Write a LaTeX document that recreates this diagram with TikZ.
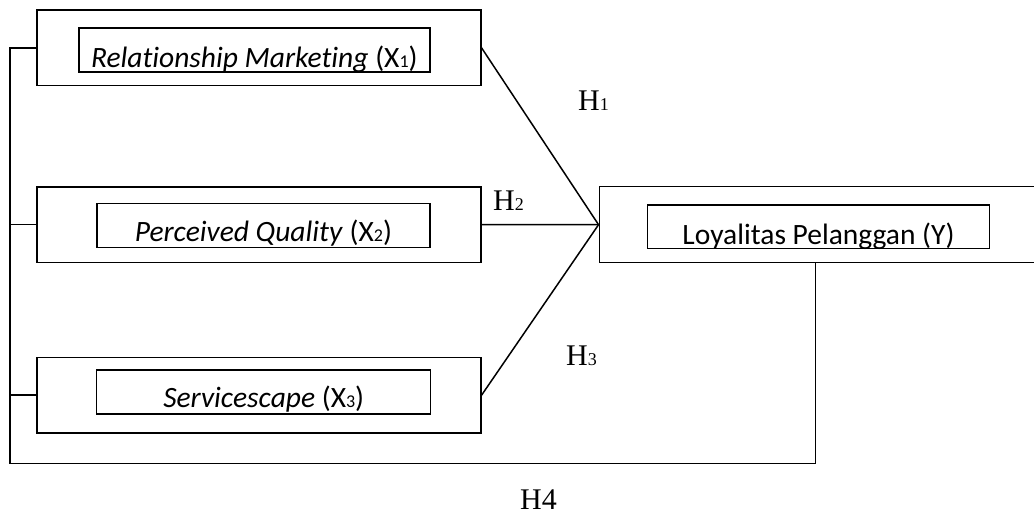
\documentclass[tikz,border=0pt]{standalone}
\usepackage{fontspec}
\setmainfont{Liberation Serif}
\newfontfamily\calibri[Ligatures=NoCommon]{Carlito}
\usetikzlibrary{positioning}
\newcommand\smdig[1]{{\fontsize{18}{18}\selectfont #1}}
\tikzset{
  outbox/.style={draw,line width=1.5pt,minimum width=444pt,minimum height=75.5pt,inner sep=0pt},
  inbox/.style={draw,line width=1.5pt,minimum height=44pt,inner sep=0pt},
  vname/.style={font=\calibri\fontsize{29.5}{34}\selectfont,inner sep=0pt,anchor=base},
  hyp/.style={font=\fontsize{30}{36}\selectfont,inner sep=0pt,anchor=base west},
  link/.style={line width=1.5pt},
}

\begin{document}
\begin{tikzpicture}[x=1pt,y=-1pt]
  \useasboundingbox (0,0) rectangle (1034,514);
  % variables
  \node[outbox] (x1) at (258.8,47.8) {};
  \node[inbox,minimum width=351pt] (x1i) at (254.3,50) {};
  \node[vname] (x1t) at ([yshift=5pt]x1i.south) {\textit{Relationship Marketing} (X\smdig{1})};
  \node[outbox] (x2) at (258.8,224.5) {};
  \node[inbox,minimum width=333pt] (x2i) at (263.4,225.5) {};
  \node[vname] (x2t) at ([yshift=7pt]x2i.south) {\textit{Perceived Quality} (X\smdig{2})};
  \node[outbox] (x3) at (258.8,395.2) {};
  \node[inbox,minimum width=334pt] (x3i) at (263.7,392) {};
  \node[vname] (x3t) at ([yshift=7pt]x3i.south) {\textit{Servicescape} (X\smdig{3})};
  \node[outbox,minimum width=442pt,minimum height=76pt] (y) at (820.3,224.7) {};
  \node[inbox,minimum width=341.6pt,minimum height=43.3pt] (yi) at (818.5,226.6) {};
  \node[vname] (yt) at ([yshift=5pt]yi.south) {Loyalitas Pelanggan (Y)};
  % connectors
  \coordinate (lb) at (10,463.3);
  \foreach \s in {x1,x2,x3} \draw[link] (\s.east) -- (y.west);
  \draw[link] (x1.west) -| (lb) -| ([xshift=-5pt]y.south);
  \draw[link] (x2.west) -- (x2.west -| lb);
  \draw[link] (x3.west) -- (x3.west -| lb);
  % hypotheses
  \node[hyp] (h1) at (578,110) {H\smdig{1}};
  \node[hyp] (h2) at (493,210) {H\smdig{2}};
  \node[hyp] (h3) at (566,365) {H\smdig{3}};
  \node[hyp] (h4) at (520,509) {H4};
\end{tikzpicture}
\end{document}
